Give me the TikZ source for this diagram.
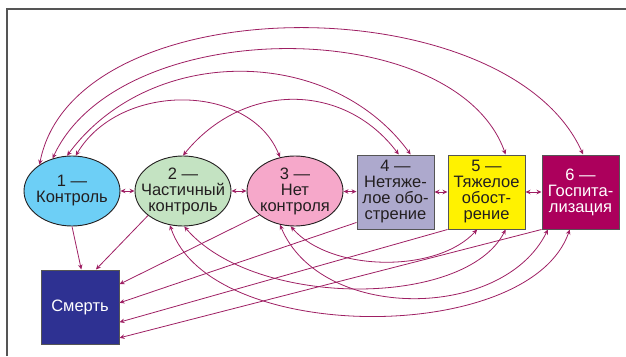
\documentclass[tikz,border=0pt]{standalone}
\usepackage{fontspec}
\setmainfont{Liberation Sans}
\usetikzlibrary{shapes.geometric,arrows.meta}

\definecolor{txt}{HTML}{231F20}
\definecolor{framec}{HTML}{555555}
\definecolor{linkc}{HTML}{9E1F63}
\definecolor{c1}{HTML}{6DCFF6}
\definecolor{c2}{HTML}{C4E3C2}
\definecolor{c3}{HTML}{F6A8CA}
\definecolor{c4}{HTML}{ADA9CD}
\definecolor{c5}{HTML}{FFF200}
\definecolor{c6}{HTML}{AC005C}
\definecolor{c7}{HTML}{2E3192}

\begin{document}
\begin{tikzpicture}[x=1pt,y=-1pt,
  every node/.style={font=\fontsize{16.5}{16}\selectfont, align=center, text=txt},
  oval/.style={ellipse, draw=txt, line width=0.9pt, minimum width=96pt, minimum height=70pt, inner xsep=-10pt, inner ysep=-3pt},
  box/.style={rectangle, draw=framec, line width=1pt, minimum width=77pt, minimum height=74pt, inner sep=0pt},
  link/.style={draw=linkc, line width=0.8pt, {Stealth[length=5pt,width=4.5pt]}-{Stealth[length=5pt,width=4.5pt]}},
  todeath/.style={draw=linkc, line width=0.8pt, -{Stealth[length=5pt,width=4.5pt]}}]
\useasboundingbox (0,0) rectangle (626,356);
\draw[framec, line width=1.3pt] (7,356) -- (7,9) -- (626,9);

% control states
\node[oval, fill=c1] (n1) at (72,191) {1 —\\Контроль};
\node[oval, fill=c2] (n2) at (183,191) {2 —\\Частичный\\контроль};
\node[oval, fill=c3] (n3) at (295,191) {3 —\\Нет\\контроля};

% exacerbations
\node[box, fill=c4] (n4) at (395.5,192) {4 —\\Нетяже-\\лое обо-\\стрение};
\node[box, fill=c5] (n5) at (486.5,192) {5 —\\Тяжелое\\обост-\\рение};
\node[box, fill=c6, text=white] (n6) at (580.5,192) {6 —\\Госпита-\\лизация};

\node[box, fill=c7, text=white, minimum width=78pt] (death) at (80,307) {Смерть};

% neighbours
\draw[link] (n1) -- (n2);
\draw[link] (n2) -- (n3);
\draw[link] (n3) -- (n4);
\draw[link] (n4) -- (n5);
\draw[link] (n5) -- (n6);

% arcs above
\draw[link] (n1.141) .. controls +(35,-180) and +(-76,-170) .. (n6.86);
\draw[link] (n1.121) .. controls +(67,-145) and +(-50,-141) .. (n5.63);
\draw[link] (n1.98) .. controls +(83,-112) and +(-80,-110) .. (n4.68);
\draw[link] (n1.84) .. controls +(44,-74) and +(-30,-75) .. (n3.114);
\draw[link] (n2.north) .. controls +(60,-74) and +(-55,-73) .. (n4.85);

% arcs below
\draw[link] (n3.263) .. controls +(40,46) and +(-40,44) .. (n5.256);
\draw[link] (n2.272) .. controls +(70,82) and +(-40,79) .. (n5.297);
\draw[link] (n3.246) .. controls +(40,97) and +(-45,92) .. (n6.229);
\draw[link] (n2.249) .. controls +(40,120) and +(-40,116) .. (n6.254);

% to death
\draw[todeath] (n1.south) -- (death.88);
\draw[todeath] (n2.215) -- (death.67);
\draw[todeath] (n3.214) -- (death.30);
\draw[todeath] (n4.218) -- (death.6);
\draw[todeath] (n5.south west) -- (death.339);
\draw[todeath] (n6.south west) -- (death.322);
\end{tikzpicture}
\end{document}
